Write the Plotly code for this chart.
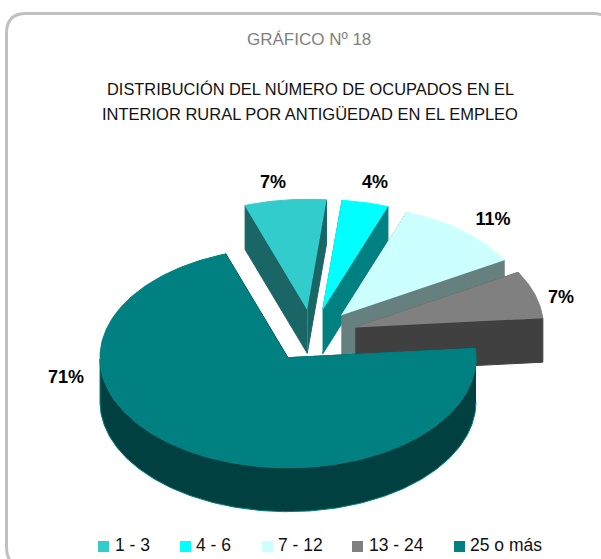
import numpy as np
import plotly.graph_objects as go

categories = ["1 - 3", "4 - 6", "7 - 12", "13 - 24", "25 o más"]
values = [7, 4, 11, 7, 71]
labels = ["7%", "4%", "11%", "7%", "71%"]
top_colors = ["#33CCCC", "#00FFFF", "#CCFFFF", "#808080", "#008080"]
wall_colors = ["#1A6666", "#008080", "#668080", "#404040", "#004040"]

W, H = 601, 559
CX, CY, RX, RY, DEPTH, EXPLODE = 312.5, 335.5, 188, 110, 44, 0.24
START = 109.3

fig = go.Figure()


def poly(xs, ys, fill, line):
    fig.add_trace(go.Scatter(x=xs, y=ys, mode="lines", fill="toself", fillcolor=fill,
                             line=dict(color=line, width=1), hoverinfo="skip", showlegend=False))


angle = START
for value, top, wall in zip(values, top_colors, wall_colors):
    sweep = value / sum(values) * 360
    a0, a1 = angle, angle - sweep
    angle = a1
    mid = np.radians((a0 + a1) / 2)
    ax = CX + EXPLODE * RX * np.cos(mid)
    ay = CY - EXPLODE * RY * np.sin(mid)
    t = np.radians(np.linspace(a0, a1, max(int(sweep), 8)))
    rx = ax + RX * np.cos(t)
    ry = ay - RY * np.sin(t)
    # radial walls, then the front part of the outer wall, then the top face
    poly([ax, rx[0], rx[0], ax], [ay, ry[0], ry[0] + DEPTH, ay + DEPTH], wall, wall)
    poly([ax, rx[-1], rx[-1], ax], [ay, ry[-1], ry[-1] + DEPTH, ay + DEPTH], wall, wall)
    front = np.sin(t) <= 0
    if front.any():
        fx, fy = rx[front], ry[front]
        poly(list(fx) + list(fx[::-1]), list(fy) + list(fy[::-1] + DEPTH), wall, top)
    poly([ax] + list(rx), [ay] + list(ry), top, top)

label_x = [273, 375, 493, 561, 66]
label_y = [183, 183, 220, 298, 378]
fig.add_trace(go.Scatter(x=label_x, y=label_y, mode="text", text=labels,
                         textfont=dict(family="Liberation Sans", size=18, color="#000000"),
                         texttemplate="<b>%{text}</b>", hoverinfo="skip", showlegend=False))

swatch_x = [103.5, 185.5, 267.5, 357.5, 459.5]
legend_text_x = [115, 196, 278, 369, 470]
fig.add_trace(go.Scatter(x=swatch_x, y=[546.5] * 5, mode="markers",
                         marker=dict(symbol="square", size=11, color=top_colors, line=dict(width=0)),
                         hoverinfo="skip", showlegend=False))
fig.add_trace(go.Scatter(x=legend_text_x, y=[547] * 5, mode="text", text=categories,
                         textposition="middle right",
                         textfont=dict(family="Liberation Sans", size=17.5, color="#111111"),
                         hoverinfo="skip", showlegend=False))

fig.add_shape(type="path", xref="x", yref="y", layer="below",
              path="M 26 567 Q 6.5 567 6.5 547 L 6.5 33 Q 6.5 13.5 26 13.5 L 593 13.5 "
                   "Q 613 13.5 613 33 L 613 547 Q 613 567 593 567 Z",
              line=dict(color="#C0C0C0", width=3), fillcolor="#FFFFFF")

fig.add_annotation(x=309, y=39, text="GRÁFICO Nº 18", showarrow=False,
                   font=dict(family="Liberation Sans", size=17, color="#808080"))
fig.add_annotation(x=310, y=89, text="DISTRIBUCIÓN DEL NÚMERO DE OCUPADOS EN EL", showarrow=False,
                   font=dict(family="Liberation Sans", size=16.4, color="#111111"))
fig.add_annotation(x=310, y=114, text="INTERIOR RURAL POR ANTIGÜEDAD EN EL EMPLEO", showarrow=False,
                   font=dict(family="Liberation Sans", size=16.5, color="#111111"))

fig.update_xaxes(range=[0, W], visible=False, fixedrange=True)
fig.update_yaxes(range=[H, 0], visible=False, fixedrange=True)
fig.update_layout(width=W, height=H, margin=dict(l=0, r=0, t=0, b=0),
                  paper_bgcolor="#FFFFFF", plot_bgcolor="#FFFFFF")
fig.write_html("out.html", config=dict(displayModeBar=False),
               post_script="document.body.style.margin='0';document.body.style.overflow='hidden';")
